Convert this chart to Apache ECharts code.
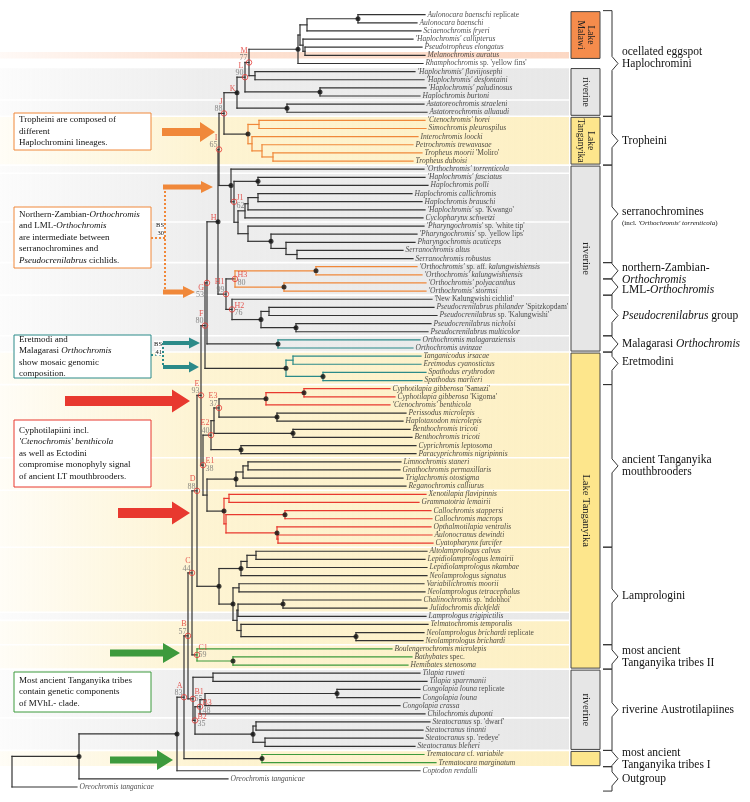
<!DOCTYPE html>
<html><head><meta charset="utf-8">
<script src="https://cdn.jsdelivr.net/npm/echarts/dist/echarts.min.js"></script>
<style>html,body{margin:0;padding:0;background:#fff}#c{width:750px;height:802px}</style>
</head><body><div id="c"></div>
<script>
// ---------------- DATA ----------------
const leaves = [
"Aulonocara baenschi replicate","Aulonocara baenschi","Sciaenochromis fryeri","'Haplochromis' callipterus","Pseudotropheus elongatus",
"Melanochromis auratus","Rhamphochromis sp. 'yellow fins'","'Haplochromis' flaviijosephi","'Haplochromis' desfontaini","'Haplochromis' paludinosus",
"Haplochromis burtoni","Astatoreochromis straeleni","Astatoreochromis alluaudi","'Ctenochromis' horei","Simochromis pleurospilus",
"Interochromis loocki","Petrochromis trewavasae","Tropheus moorii 'Moliro'","Tropheus duboisi","'Orthochromis' torrenticola",
"'Haplochromis' fasciatus","Haplochromis polli","Haplochromis callichromis","Haplochromis brauschi","'Haplochromis' sp. 'Kwango'",
"Cyclopharynx schwetzi","'Pharyngochromis' sp. 'white tip'","'Pharyngochromis' sp. 'yellow lips'","Pharyngochromis acuticeps","Serranochromis altus",
"Serranochromis robustus","'Orthochromis' sp. aff. kalungwishiensis","'Orthochromis' kalungwishiensis","'Orthochromis' polyacanthus","'Orthochromis' stormsi",
"'New Kalungwishi cichlid'","Pseudocrenilabrus philander 'Spitzkopdam'","Pseudocrenilabrus sp. 'Kalungwishi'","Pseudocrenilabrus nicholsi","Pseudocrenilabrus multicolor",
"Orthochromis malagaraziensis","Orthochromis uvinzae","Tanganicodus irsacae","Eretmodus cyanostictus","Spathodus erythrodon",
"Spathodus marlieri","Cyphotilapia gibberosa 'Samazi'","Cyphotilapia gibberosa 'Kigoma'","'Ctenochromis' benthicola","Perissodus microlepis",
"Haplotaxodon microlepis","Benthochromis tricoti","Benthochromis tricoti","Cyprichromis leptosoma","Paracyprichromis nigripinnis",
"Limnochromis staneri","Gnathochromis permaxillaris","Triglachromis otostigma","Reganochromis calliurus","Xenotilapia flavipinnis",
"Grammatotria lemairii","Callochromis stappersi","Callochromis macrops","Opthalmotilapia ventralis","Aulonocranus dewindti",
"Cyatopharynx furcifer","Altolamprologus calvus","Lepidiolamprologus lemairii","Lepidiolamprologus nkambae","Neolamprologus signatus",
"Variabilichromis moorii","Neolamprologus tetracephalus","Chalinochromis sp. 'ndobhoi'","Julidochromis dickfeldi","Lamprologus trigipictilis",
"Telmatochromis temporalis","Neolamprologus brichardi replicate","Neolamprologus brichardi","Boulengerochromis microlepis","Bathybates spec.",
"Hemibates stenosoma","Tilapia ruweti","Tilapia sparrmanii","Congolapia louna replicate","Congolapia louna",
"Congolapia crassa","Chilochromis duponti","Steatocranus sp. 'dwarf'","Steatocranus tinanti","Steatocranus sp. 'redeye'",
"Steatocranus bleheri","Trematocara cf. variabile","Trematocara marginatum","Coptodon rendalli","Oreochromis tanganicae",
"Oreochromis tanganicae"];

// depth (x-axis value) of each leaf tip
const tipDepth = [
425,417,421,413,422,425,423,415,424,426,
420,424,427,425,426,418,413,422,413,424,
425,428,412,422,425,423,424,417,415,403,
413,417,422,426,426,432,434,437,431,428,
420,413,421,421,426,422,390,395,390,406,
403,410,412,416,416,401,400,403,406,426,
419,431,432,431,432,433,427,425,427,427,
424,425,421,427,426,428,424,423,392,412,
408,420,427,420,420,400,425,430,423,423,
415,424,436,420,228,77];

// internal nodes: [id, depth, children (numbers = leaf index, strings = node ids)]
const nodes = [
['a12',358,[1,2]],['a123',307,['a12',3]],['a56',305,[5,6]],['a456',303,[4,'a56']],['a16',300,['a123','a456']],
['mal',298,['a16',7]],['h89',255,[8,9]],['M',249,['mal','h89']],['bur',320,[10,11]],['L',245,['M','bur']],
['ast',287,[12,13]],['K',237,['L','ast']],
['t1415',259,[14,15]],['t1819',273,[18,19]],['t17',262,[17,'t1819']],['t16',252,[16,'t17']],['trop',248,['t1415','t16']],
['J',224,['K','trop']],
['s2122',258,[21,22]],['s2324',258,[23,24]],['s25',248,['s2324',25]],['s26',245,['s25',26]],
['s3031',297,[30,31]],['s29',286,[29,'s3031']],['s28',271,[28,'s29']],['s27',248,[27,'s28']],['s238',238,['s26','s27']],
['J1',234,['s2122','s238']],['ser',231,[20,'J1']],['I',219,['J','ser']],
['k3233',316,[32,33]],['k3435',284,[34,35]],['H3',235,['k3233','k3435']],
['p3738',269,[37,38]],['p3940',296,[39,40]],['pse',261,['p3738','p3940']],['H2',232,[36,'pse']],
['H1',226,['H3','H2']],['H',218,['I','H1']],
['mala',278,[41,42]],['G',207,['H','mala']],
['e4344',293,[43,44]],['e4546',323,[45,46]],['eret',286,['e4344','e4546']],['F',205,['G','eret']],
['c4748',304,[47,48]],['cyph',266,['c4748',49]],['per',277,[50,51]],['E3',219,['cyph','per']],
['ben',293,[52,53]],['e214',214,['E3','ben']],['cyp',241,[54,55]],['E2',211,['e214','cyp']],
['l5657',248,[56,57]],['l58',243,['l5657',58]],['limno',236,['l58',59]],
['x6061',229,[60,61]],['x6263',285,[62,63]],['x6566',278,[65,66]],['x64',277,[64,'x6566']],['x6266',226,['x6263','x64']],
['ecto',224,['x6061','x6266']],['N',207,['limno','ecto']],['E1',203,['E2','N']],['E',201,['F','E1']],
['q6768',256,[67,68]],['q69',247,['q6768',69]],['q70',241,['q69',70]],['q7172',239,[71,72]],
['q7374',283,[73,74]],['q75',238,['q7374',75]],['q7778',356,[77,78]],['q76',241,[76,'q7778']],['qY',237,['q75','q76']],
['q605',233,['q7172','qY']],['lamp',219,['q70','q605']],['D',197,['E','lamp']],
['bat',233,[80,81]],['C1',197,[79,'bat']],['C',192,['D','C1']],
['til',213,[82,83]],['con',337,[84,85]],['c86',205,['con',86]],['B3',200,['c86',87]],
['st89',256,[88,89]],['st91',265,[90,91]],['stea',253,['st89','st91']],['B2',195,['B3','stea']],
['B1',193,['til','B2']],['B',188,['C','B1']],['trem',262,[92,93]],['A',184,['B','trem']],
['r1',177,['A',94]],['r2',79,['r1',95]],['root',12,['r2',96]]
];

const dotNodes = ['a12','mal','bur','K','ast','trop','s2122','s28','ser','H','k3233','k3435','pse','p3940',
  'mala','eret','e4546','cyph','c4748','per','ben','cyp','limno','ecto','x6263','x64',
  'q70','q605','lamp','q7374','q7778','bat','con','stea','trem','r1','r2'];

const support = {M:'77',L:'90',K:'',J:'88',I:'65',H:'',J1:'62',H3:'80',H2:'76',H1:'99',G:'53',F:'80',
  E:'93',E3:'37',E2:'40',E1:'38',D:'88',C:'44',C1:'59',B:'57',A:'83',B1:'55',B3:'48',B2:'35'};
const circleNodes = ['M','L','J','I','J1','H3','H2','H1','G','F','E','E3','E2','E1','D','C','C1','B','A','B1','B3','B2'];

const cladeColor = {trop:'orange',H3:'orange',mala:'teal',eret:'teal',cyph:'red',ecto:'red',C1:'green',trem:'green'};

// background bands [firstLeaf, lastLeaf, type]
const bands = [[6,6,'p'],[8,11,'g'],[12,13,'g'],[14,19,'y'],[20,20,'g'],[21,26,'g'],[27,31,'g'],[32,35,'g'],
  [36,40,'g'],[41,42,'g'],[43,46,'y'],[47,55,'y'],[56,59,'y'],[60,66,'y'],[67,74,'y'],[75,75,'g'],[76,78,'y'],
  [79,81,'y'],[82,87,'g'],[88,91,'g'],[92,93,'y']];

// habitat boxes [firstLeaf, lastLeaf, text, type]
const habitats = [[1,6,'Lake\nMalawi','p'],[8,13,'riverine','g'],[14,19,'Lake\nTanganyika','y'],[20,42,'riverine','g'],
  [43,81,'Lake Tanganyika','y'],[82,91,'riverine','g'],[92,93,'','y']];

// clade brackets [firstLeaf, lastLeaf, label]
const clades = [
 [1,13,'ocellated eggspot\nHaplochromini'],[14,19,'Tropheini'],
 [20,31,"serranochromines\n{s|(incl. }{si|'Orthochromis' torrenticola}{s|)}"],
 [32,33,'northern-Zambian-\n{i|Orthochromis}'],[34,35,'LML-{i|Orthochromis}'],
 [36,40,'{i|Pseudocrenilabrus} group'],[41,42,'Malagarasi {i|Orthochromis}'],[43,46,'Eretmodini'],
 [47,66,'ancient Tanganyika\nmouthbrooders'],[67,78,'Lamprologini'],[79,81,'most ancient\nTanganyika tribes II'],
 [82,91,'riverine Austrotilapiines'],[92,93,'most ancient\nTanganyika tribes I'],[94,96,'Outgroup']];

// ---------------- STYLE ----------------
const SERIF = "'Liberation Serif','Times New Roman',serif";
const COL = {k:'#333333',orange:'#f0883a',teal:'#2b8a89',red:'#e8392f',green:'#3d9a3d'};
const BAND = {p:[252,216,196],g:[232,232,232],y:[253,240,196]};
const HAB = {p:'#f58c4c',g:'#e6e6e6',y:'#fde68c'};
const cladeTextDy = [-5,0,3,3,3,0,0,-6,0,0,0,0,0,0];
const cladeTipDy  = [0,0,0,0,0,0,0,-5,0,0,0,0,0,0];
const labelPlace = {M:'L',L:'L',K:'L',J:'L',I:'L',H:'L',H1:'L',G:'LD',F:'L',E:'L',E3:'L',E2:'L',D:'L',C:'L',B:'L',A:'L',
  J1:'R',H3:'R',H2:'R',E1:'R',C1:'RU',B1:'RU',B3:'R',B2:'R'};
const placeCfg = {L:{align:'right',verticalAlign:'bottom',offset:[-1.5,-0.5]},
  LD:{align:'right',verticalAlign:'top',offset:[-3,1]},
  R:{align:'left',verticalAlign:'middle',offset:[2.5,0]},
  RU:{align:'left',verticalAlign:'bottom',offset:[1.5,4]}};

// ---------------- TREE LAYOUT ----------------
const nodeMap = {};
nodes.forEach(n => nodeMap[n[0]] = {id:n[0], depth:n[1], children:n[2]});
const yOf = c => typeof c === 'number' ? c : nodeMap[c].y;
const xOf = c => typeof c === 'number' ? tipDepth[c-1] : nodeMap[c].depth;
function calcY(id){ const n = nodeMap[id];
  n.children.forEach(c => { if (typeof c !== 'number') calcY(c); });
  n.y = (yOf(n.children[0]) + yOf(n.children[n.children.length-1]))/2; }
calcY('root');
const segs = [];
function walk(id, color){ const n = nodeMap[id]; const col = cladeColor[id] || color;
  const ys = n.children.map(yOf);
  segs.push([n.depth, Math.min(...ys), n.depth, Math.max(...ys), col]);
  n.children.forEach(c => { segs.push([n.depth, yOf(c), xOf(c), yOf(c), col]); if (typeof c !== 'number') walk(c, col); });
}
walk('root','k');

function fmtName(name){
  const toks = name.match(/'[^']*'|\S+/g);
  return toks.map((t,i) => {
    const up = /^(sp\.|cf\.|aff\.|spec\.|replicate)$/.test(t) || (t[0] === "'" && i > 0) || t === "'New Kalungwishi cichlid'";
    return '{' + (up ? 'n' : 'i') + '|' + t + '}';
  }).join(' ');
}

const chart = echarts.init(document.getElementById('c'), null, {renderer:'canvas'});
const BOX_L = 571, BOX_R = 600;

const option = {
  animation:false,
  grid:{left:0,right:0,top:14.7,bottom:15},
  xAxis:{type:'value',min:0,max:750,show:false},
  yAxis:{type:'value',min:1,max:96,inverse:true,show:false},
  series:[
    { type:'custom', z:0, silent:true, data:bands.map(b=>[b[0],b[1]]), encode:{y:[0,1]},
      renderItem:(p,api)=>{ const b = bands[p.dataIndex]; const c = BAND[b[2]];
        const y0 = api.coord([0,api.value(0)])[1], y1 = api.coord([0,api.value(1)])[1];
        const h = (api.coord([0,2])[1]-api.coord([0,1])[1])/2;
        const rgba = a => 'rgba('+c[0]+','+c[1]+','+c[2]+','+a+')';
        return {type:'rect', shape:{x:0,y:y0-h+0.8,width:BOX_L-2,height:y1-y0+2*h-1.6},
          style:{fill:new echarts.graphic.LinearGradient(0,0,1,0,[{offset:0,color:rgba(0.15)},{offset:0.35,color:rgba(0.75)},{offset:1,color:rgba(1)}])}};
      }},
    { type:'custom', z:3, silent:true, data:segs.map(s=>[s[0],s[1],s[2],s[3]]), encode:{x:[0,2],y:[1,3]},
      renderItem:(p,api)=>{ const a = api.coord([api.value(0),api.value(1)]), b = api.coord([api.value(2),api.value(3)]);
        return {type:'line', shape:{x1:a[0],y1:a[1],x2:b[0],y2:b[1]},
          style:{stroke:COL[segs[p.dataIndex][4]], lineWidth:1.2, lineCap:'square'}}; }},
    { type:'scatter', z:5, silent:true, symbolSize:5, itemStyle:{color:'#111'},
      data:dotNodes.map(id=>[nodeMap[id].depth, nodeMap[id].y]) },
    { type:'scatter', z:5, silent:true, symbolSize:5.5,
      itemStyle:{color:'rgba(255,255,255,0)', borderColor:'#e53935', borderWidth:1},
      data:circleNodes.map(id=>[nodeMap[id].depth, nodeMap[id].y]) },
    { type:'scatter', z:6, silent:true, symbolSize:1, itemStyle:{color:'rgba(0,0,0,0)'},
      label:{show:true, position:'right', distance:2, fontFamily:SERIF, fontSize:7.5, color:'#222',
        formatter:p=>fmtName(leaves[p.dataIndex]),
        rich:{i:{fontStyle:'italic',fontFamily:SERIF,fontSize:7.5,color:'#222'},
              n:{fontStyle:'normal',fontFamily:SERIF,fontSize:7.5,color:'#222'}}},
      data:leaves.map((n,i)=>[tipDepth[i], i+1]) },
    { type:'scatter', z:7, silent:true, symbolSize:1, itemStyle:{color:'rgba(0,0,0,0)'},
      label:{show:true, position:'inside', fontFamily:SERIF, fontSize:8,
        rich:{l:{color:'#e0312b',fontFamily:SERIF,fontSize:8,lineHeight:7.5},
              n:{color:'#6a6a6a',fontFamily:SERIF,fontSize:8,lineHeight:7.5}}},
      data:Object.keys(support).map(id=>{ const pc = placeCfg[labelPlace[id]];
        const txt = '{l|'+id+'}' + (support[id] ? '\n{n|'+support[id]+'}' : '');
        return {value:[nodeMap[id].depth, nodeMap[id].y],
          label:{formatter:txt, align:pc.align, verticalAlign:pc.verticalAlign, offset:pc.offset}}; }) }
  ]
};
chart.setOption(option);

// ---------------- ANNOTATIONS ----------------
const py = i => chart.convertToPixel({gridIndex:0},[0,i])[1];
const half = (py(2)-py(1))/2;
const g = [];

habitats.forEach(h=>{
  const y0 = py(h[0])-half+1, y1 = py(h[1])+half-1;
  g.push({type:'rect', z:4, shape:{x:BOX_L,y:y0,width:BOX_R-BOX_L,height:y1-y0},
    style:{fill:HAB[h[3]], stroke:'#444', lineWidth:1}});
  const fs = (y1-y0) < 60 ? 9.5 : 10.5;
  if (h[2]) g.push({type:'text', z:5, x:(BOX_L+BOX_R)/2, y:(y0+y1)/2, rotation:-Math.PI/2,
    style:{text:h[2], fill:'#222', font:fs+'px '+SERIF, align:'center', verticalAlign:'middle',
      textAlign:'center', textVerticalAlign:'middle', lineHeight:fs+0.5}});
});

const richBr = {i:{fontStyle:'italic',fontFamily:SERIF,fontSize:11.5,fill:'#111',lineHeight:12},
  s:{fontFamily:SERIF,fontSize:7,fill:'#111',lineHeight:10}, si:{fontStyle:'italic',fontFamily:SERIF,fontSize:7,fill:'#111',lineHeight:10}};
clades.forEach((c,k)=>{
  const y0 = py(c[0])-half, y1 = py(c[1])+half, tip = (y0+y1)/2 + cladeTipDy[k];
  const d = Math.min(7, (y1-y0)/2-1, tip-y0-1, y1-tip-1);
  const x0 = 603, x1 = 612, x2 = 618;
  g.push({type:'polyline', z:4, shape:{points:[[x0,y0],[x1,y0],[x1,tip-d],[x2,tip],[x1,tip+d],[x1,y1],[x0,y1]]},
    style:{stroke:'#333', lineWidth:1, fill:null}});
  g.push({type:'text', z:5, x:622, y:(y0+y1)/2 + cladeTextDy[k],
    style:{text:c[2], rich:richBr, fill:'#111', font:'11.5px '+SERIF,
      align:'left', verticalAlign:'middle', textAlign:'left', textVerticalAlign:'middle', lineHeight:12}});
});

// left explanatory boxes
const richBox = {i:{fontStyle:'italic',fontFamily:SERIF,fontSize:9,fill:'#111',lineHeight:11.5}};
function note(y0,y1,border,text){
  g.push({type:'rect', z:8, shape:{x:14,y:y0,width:137,height:y1-y0}, style:{fill:'#fff',stroke:border,lineWidth:1}});
  g.push({type:'text', z:9, x:19, y:(y0+y1)/2, style:{text:text, rich:richBox, fill:'#111', font:'9px '+SERIF,
    lineHeight:11.5, align:'left', verticalAlign:'middle', textAlign:'left', textVerticalAlign:'middle'}});
}
note(113,150,'#f0883a','Tropheini are composed of\ndifferent\nHaplochromini lineages.');
note(207,268,'#f0883a','Northern-Zambian-{i|Orthochromis}\nand LML-{i|Orthochromis}\nare intermediate between\nserranochromines and\n{i|Pseudocrenilabrus} cichlids.');
note(335,378,'#2b8a89','Eretmodi and\nMalagarasi {i|Orthochromis}\nshow mosaic genomic\ncomposition.');
note(420,487,'#e8392f',"Cyphotilapiini incl.\n{i|'Ctenochromis' benthicola}\nas well as Ectodini\ncompromise monophyly signal\nof ancient LT mouthbrooders.");
note(672,712,'#3d9a3d','Most ancient Tanganyika tribes\ncontain genetic components\nof MVhL- clade.');

function arrow(x0,xh,xt,yc,sh,hh,color){
  g.push({type:'polygon', z:10, shape:{points:[[x0,yc-sh/2],[xh,yc-sh/2],[xh,yc-hh/2],[xt,yc],[xh,yc+hh/2],[xh,yc+sh/2],[x0,yc+sh/2]]},
    style:{fill:color}});
}
arrow(162,200,215,132,8,20,COL.orange);
arrow(163,201,213,187,5,12,COL.orange);
arrow(163,183,195,292,5,12,COL.orange);
arrow(163,189,200,343,4,11,COL.teal);
arrow(163,189,199,367,4,11,COL.teal);
arrow(65,172,190,401,10,23,COL.red);
arrow(118,172,190,513,10,23,COL.red);
arrow(110,163,180,653,7,20,COL.green);
arrow(110,157,173,760,7,20,COL.green);

function dotted(points,color){ g.push({type:'polyline', z:9, shape:{points}, style:{stroke:color,lineWidth:2,lineDash:[2,2],fill:null}}); }
dotted([[165,187],[165,292]],COL.orange);
dotted([[151,238],[165,238]],COL.orange);
dotted([[163,343],[163,367]],COL.teal);
dotted([[151,355],[163,355]],COL.teal);
function small(x,y,t){ g.push({type:'text', z:11, x, y, style:{text:t, fill:'#111', font:'6.5px '+SERIF, align:'right', verticalAlign:'middle', textAlign:'right', textVerticalAlign:'middle', backgroundColor:'#fff'}}); }
small(164,225,'BS'); small(164,233,'30');
small(162,344,'BS'); small(162,352,'41');

chart.setOption({graphic:{elements:g}});
</script></body></html>
